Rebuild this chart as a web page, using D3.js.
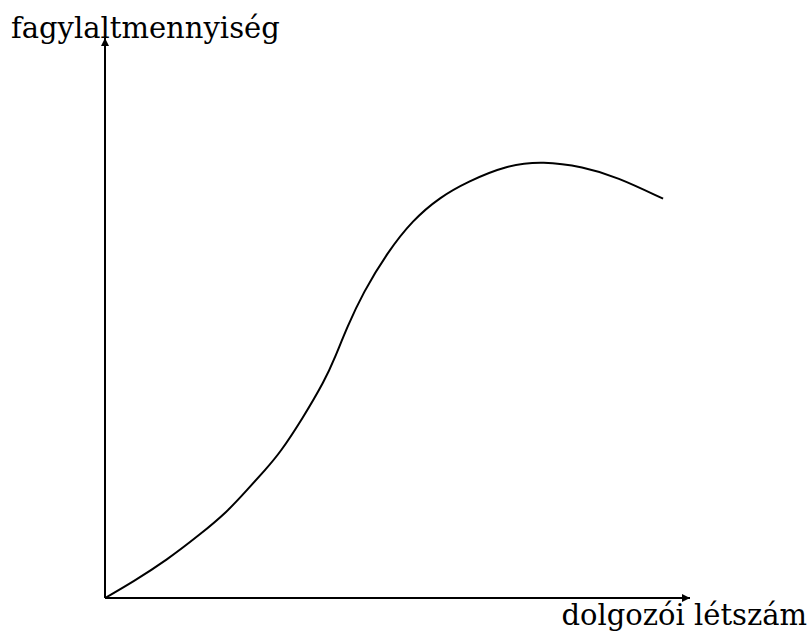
<!DOCTYPE html>
<html>
<head>
<meta charset="utf-8">
<script src="https://cdn.jsdelivr.net/npm/d3@7"></script>
<style>
  body { margin: 0; background: #fff; }
  svg text { font-family: "DejaVu Serif", serif; fill: #000; }
</style>
</head>
<body>
<div id="chart"></div>
<script>
// létszám (x) vs. fagylaltmennyiség (y), arbitrary units 0..100
const xValues = [0, 4.8, 10.6, 16.2, 20.9, 24.3, 27.4, 29.9, 33.8, 37.6, 39.3, 41.4, 44.1, 48.2, 52.6, 57.3, 61.9, 68.7, 74.9, 81.7, 87.5, 95.4];
const yValues = [0, 2.9, 6.8, 11.3, 15.4, 19.3, 22.9, 25.9, 32.1, 38.9, 42.9, 48.4, 54.5, 61.6, 67.5, 71.6, 74.3, 77.3, 78.0, 77.0, 75.2, 71.3];
const xLabel = "dolgozói létszám";
const yLabel = "fagylaltmennyiség";

const width = 812, height = 633;
const margin = { left: 105, right: 122, top: 38, bottom: 35 };

const svg = d3.select("#chart").append("svg")
    .attr("width", width)
    .attr("height", height);

const x = d3.scaleLinear().domain([0, 100]).range([margin.left, width - margin.right]);
const y = d3.scaleLinear().domain([0, 100]).range([height - margin.bottom, margin.top]);

// arrow head
svg.append("defs").append("marker")
    .attr("id", "arrow")
    .attr("viewBox", "0 0 10 10")
    .attr("refX", 10)
    .attr("refY", 5)
    .attr("markerWidth", 5)
    .attr("markerHeight", 4)
    .attr("markerUnits", "strokeWidth")
    .attr("orient", "auto")
    .append("path")
    .attr("d", "M0,0 L10,5 L0,10 z")
    .attr("fill", "#000");

// axes
svg.append("line")
    .attr("x1", x(0)).attr("y1", y(0))
    .attr("x2", x(100)).attr("y2", y(0))
    .attr("stroke", "#000").attr("stroke-width", 2)
    .attr("marker-end", "url(#arrow)");

svg.append("line")
    .attr("x1", x(0)).attr("y1", y(0))
    .attr("x2", x(0)).attr("y2", y(100))
    .attr("stroke", "#000").attr("stroke-width", 2)
    .attr("marker-end", "url(#arrow)");

// curve (smoothed through the read-off points)
const pts = xValues.map((d, i) => [d, yValues[i]]);
const line = d3.line()
    .x(d => x(d[0]))
    .y(d => y(d[1]))
    .curve(d3.curveBasis);

svg.append("path")
    .datum(pts)
    .attr("d", line)
    .attr("fill", "none")
    .attr("stroke", "#000")
    .attr("stroke-width", 2);

// labels
svg.append("text")
    .attr("x", 11)
    .attr("y", 38)
    .style("font-size", "29px")
    .text(yLabel);

svg.append("text")
    .attr("x", 807)
    .attr("y", 625)
    .attr("text-anchor", "end")
    .style("font-size", "29px")
    .text(xLabel);
</script>
</body>
</html>
